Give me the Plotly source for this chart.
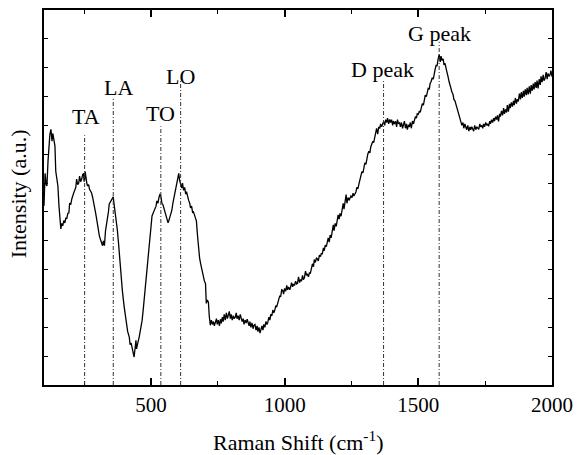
import plotly.graph_objects as go

raman_shift = [
100,104,108,111,115,118,122,126,128,130,133,137,141,144,148,152,156,159,163,166,170,174,178,182,185,189,193,196,200,204,208,211,215,219,222,226,230,233,237,241,245,248,250,252,254,256,260,263,267,270,274,278,282,285,289,293,297,300,304,307,311,315,319,322,326,330,334,337,341,344,348,352,356,359,361,363,367,370,374,378,385,393,400,407,413,419,422,426,430,434,437,440,444,446,448,452,456,460,464,467,472,478,482,485,489,493,497,500,504,508,512,515,519,522,526,530,534,537,541,545,548,552,556,560,564,567,571,574,578,582,586,590,593,596,600,604,607,611,615,618,622,626,630,633,637,641,645,648,652,656,659,663,667,670,674,678,682,686,689,693,697,700,704,706,707,711,715,718,722,726,730,734,737,741,745,748,752,756,760,763,767,770,774,778,782,786,789,793,797,800,804,808,811,815,819,822,826,830,834,837,841,845,848,852,856,860,863,867,870,874,878,882,885,889,893,897,900,904,908,911,915,919,922,926,930,934,937,941,945,948,952,956,959,963,967,970,974,978,982,985,989,993,996,1000,1004,1008,1011,1015,1019,1022,1026,1030,1033,1037,1041,1045,1048,1052,1056,1059,1063,1067,1070,1074,1078,1082,1085,1089,1093,1096,1100,1104,1108,1111,1115,1119,1122,1126,1130,1134,1137,1141,1145,1148,1152,1156,1159,1163,1167,1170,1174,1178,1182,1185,1189,1193,1196,1200,1204,1207,1211,1215,1219,1222,1226,1230,1233,1237,1241,1244,1248,1252,1256,1259,1263,1267,1270,1274,1278,1282,1285,1289,1293,1296,1300,1304,1307,1311,1315,1319,1322,1326,1330,1333,1337,1341,1344,1348,1352,1356,1359,1363,1367,1370,1374,1378,1382,1385,1389,1393,1396,1400,1404,1407,1411,1415,1419,1422,1426,1430,1433,1437,1441,1444,1448,1452,1456,1459,1463,1467,1470,1474,1478,1482,1485,1489,1493,1496,1500,1504,1507,1511,1515,1519,1522,1526,1530,1533,1537,1541,1544,1548,1552,1556,1559,1563,1567,1570,1574,1578,1582,1585,1589,1593,1596,1600,1604,1607,1611,1615,1619,1622,1626,1630,1633,1637,1641,1644,1648,1652,1656,1659,1663,1667,1670,1674,1678,1681,1685,1689,1693,1696,1700,1704,1707,1711,1715,1719,1722,1726,1730,1733,1737,1741,1744,1748,1752,1756,1759,1763,1767,1770,1774,1778,1782,1785,1789,1793,1796,1800,1804,1807,1811,1815,1819,1822,1826,1830,1833,1837,1841,1844,1848,1852,1856,1859,1863,1867,1870,1874,1878,1882,1885,1889,1893,1896,1900,1904,1907,1911,1915,1919,1922,1926,1930,1933,1937,1941,1944,1948,1952,1956,1959,1963,1967,1970,1974,1978,1982,1985,1989,1993,1996,2000]

intensity = [
6.21,7.34,6.95,6.90,7.76,8.30,8.69,8.86,8.55,8.45,8.72,8.40,8.28,7.41,7.10,6.90,6.21,5.76,5.41,5.60,5.52,5.70,5.62,5.80,5.76,5.95,5.97,6.31,6.25,6.45,6.60,6.66,6.75,6.86,7.14,6.95,7.00,7.24,7.05,7.14,7.30,7.34,7.05,7.14,7.40,7.21,7.00,6.90,6.95,6.79,6.70,6.66,6.50,6.38,6.20,5.97,5.75,5.52,5.35,5.17,5.05,4.90,4.83,5.00,4.83,5.34,5.55,5.76,6.00,6.28,6.35,6.38,6.45,6.52,6.35,6.21,6.00,5.86,5.40,5.00,4.10,3.28,2.70,2.14,1.85,1.66,1.40,1.45,1.20,1.10,0.97,1.30,1.55,1.25,1.31,1.50,1.66,1.85,2.05,2.24,2.70,3.28,3.60,3.97,4.40,4.90,5.20,5.45,5.86,5.95,6.05,6.14,6.20,6.38,6.30,6.50,6.62,6.55,6.30,6.25,6.14,6.00,5.85,5.75,5.62,5.70,5.80,5.93,6.05,6.30,6.50,6.66,6.80,7.00,7.20,7.34,7.10,6.95,6.83,7.00,6.75,6.85,6.62,6.70,6.50,6.40,6.30,6.14,6.20,5.97,6.00,5.85,5.75,5.69,5.20,4.76,4.40,4.20,4.07,3.85,3.70,3.60,3.52,3.00,2.83,2.95,2.86,2.40,2.07,2.25,2.10,2.20,2.05,2.17,2.30,2.10,2.25,2.05,2.28,2.14,2.35,2.20,2.45,2.25,2.50,2.30,2.41,2.55,2.30,2.45,2.25,2.40,2.30,2.34,2.50,2.30,2.40,2.25,2.45,2.34,2.20,2.30,2.10,2.25,2.15,2.28,2.17,2.05,2.20,2.00,2.15,1.95,2.07,2.10,1.90,2.05,1.85,2.00,1.80,1.90,2.05,1.90,2.10,2.00,2.20,2.10,2.17,2.35,2.25,2.45,2.40,2.60,2.50,2.59,2.75,2.70,2.83,2.95,3.10,3.05,3.30,3.28,3.15,3.35,3.25,3.45,3.30,3.40,3.30,3.38,3.55,3.40,3.50,3.45,3.60,3.50,3.52,3.75,3.55,3.65,3.60,3.80,3.65,3.72,3.95,3.80,3.85,3.75,3.90,3.86,4.00,4.20,4.10,4.35,4.25,4.40,4.38,4.30,4.50,4.45,4.55,4.55,4.75,4.65,4.85,4.80,4.93,5.10,4.95,5.20,5.10,5.28,5.55,5.35,5.60,5.50,5.69,5.90,5.75,5.95,5.85,6.03,6.30,6.10,6.38,6.60,6.30,6.50,6.40,6.45,6.55,6.50,6.65,6.55,6.62,6.70,6.85,6.80,6.97,7.15,7.25,7.40,7.35,7.52,7.70,7.65,7.86,8.00,8.10,8.05,8.25,8.34,8.45,8.40,8.60,8.75,8.90,8.70,8.95,8.90,9.05,8.95,9.10,9.14,9.00,9.20,9.10,9.25,9.05,9.21,9.10,9.20,9.00,9.15,9.05,9.14,8.95,9.20,9.05,9.10,8.95,9.10,8.90,9.03,9.15,8.90,9.05,8.85,9.00,8.97,9.10,8.90,9.15,9.05,9.21,9.30,9.25,9.40,9.38,9.50,9.45,9.59,9.75,9.70,9.93,10.05,10.00,10.20,10.28,10.25,10.45,10.52,10.65,10.60,10.85,10.95,11.10,11.05,11.30,11.45,11.20,11.40,11.25,11.31,11.10,11.15,10.97,10.80,10.70,10.52,10.35,10.25,10.15,10.07,9.90,9.85,9.72,9.55,9.50,9.30,9.25,9.14,9.00,9.10,8.90,9.05,8.97,8.85,9.00,8.80,8.95,8.85,8.95,8.86,8.80,9.00,8.85,8.95,8.90,8.86,9.05,8.95,9.00,8.90,9.05,8.95,9.10,9.00,9.05,8.97,9.15,9.05,9.20,9.10,9.25,9.15,9.30,9.20,9.35,9.14,9.40,9.30,9.50,9.35,9.60,9.40,9.55,9.45,9.70,9.48,9.75,9.60,9.80,9.65,9.85,9.70,9.95,9.75,9.90,9.83,10.10,9.90,10.15,9.95,10.20,10.00,10.25,10.05,10.30,10.07,10.35,10.10,10.40,10.20,10.45,10.25,10.50,10.30,10.55,10.28,10.60,10.40,10.70,10.50,10.75,10.55,10.62,10.85,10.60,10.80,10.70,10.76,10.90,10.69]

peak_names = ["TA", "LA", "TO", "LO", "D peak", "G peak"]
peak_pos = [252, 359, 537, 611, 1370, 1578]
peak_line_top = [8.66, 9.98, 8.97, 10.55, 10.59, 11.90]
label_x = [258, 377, 537, 611, 1367, 1581]
label_y = [9.31, 10.31, 9.41, 10.69, 10.93, 12.17]

x_ticks = [500, 1000, 1500, 2000]

FONT = "Liberation Serif"

fig = go.Figure()
fig.add_trace(go.Scatter(x=raman_shift, y=intensity, mode="lines",
                         line=dict(color="black", width=1.3), showlegend=False,
                         hoverinfo="skip"))

for p, top in zip(peak_pos, peak_line_top):
    fig.add_shape(type="line", x0=p, x1=p, y0=0, y1=top, xref="x", yref="y",
                  line=dict(color="#333333", width=1, dash="4px,2px,1px,2px"))

for name, lx, ly in zip(peak_names, label_x, label_y):
    fig.add_annotation(x=lx, y=ly, text=name, showarrow=False, xref="x", yref="y",
                       xanchor="center", yanchor="middle",
                       font=dict(family=FONT, size=22, color="black"))

fig.add_annotation(x=0.5, y=-0.1485, xref="paper", yref="paper",
                   text="Raman Shift (cm<sup>-1</sup>)", showarrow=False,
                   xanchor="center", yanchor="middle",
                   font=dict(family=FONT, size=22, color="black"))
fig.add_annotation(x=-0.0507, y=0.509, xref="paper", yref="paper",
                   text="Intensity (a.u.)", showarrow=False, textangle=-90,
                   xanchor="center", yanchor="middle",
                   font=dict(family=FONT, size=22, color="black"))

fig.update_layout(
    width=581, height=455,
    margin=dict(l=44, r=24, t=8, b=70),
    paper_bgcolor="white", plot_bgcolor="white",
    font=dict(family=FONT, size=21, color="black"),
    xaxis=dict(range=[100, 2000], tickvals=x_ticks, ticktext=[str(v) for v in x_ticks],
               ticks="inside", ticklen=7, tickwidth=1.5, tickcolor="black",
               minor=dict(ticks="inside", ticklen=4, tickwidth=1.2, dtick=250, tick0=0,
                          tickcolor="black"),
               showline=True, linecolor="black", linewidth=1.8, mirror="allticks",
               showgrid=False, zeroline=False,
               tickfont=dict(family=FONT, size=21, color="black")),
    yaxis=dict(range=[0, 13], dtick=1, tick0=0, showticklabels=False,
               ticks="inside", ticklen=4, tickwidth=1.2, tickcolor="black",
               showline=True, linecolor="black", linewidth=1.8, mirror="allticks",
               showgrid=False, zeroline=False),
)

fig.write_html("out.html")
